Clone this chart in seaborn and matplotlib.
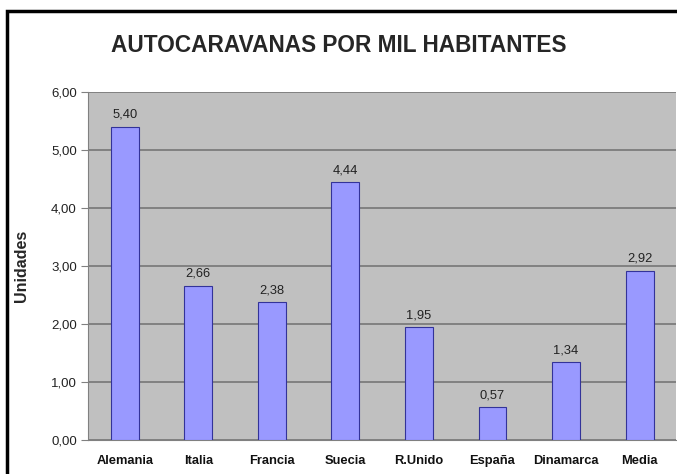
import matplotlib
matplotlib.use("Agg")
import matplotlib.pyplot as plt
import seaborn as sns
from matplotlib.patches import Rectangle

# data
paises = ["Alemania", "Italia", "Francia", "Suecia", "R.Unido", "España", "Dinamarca", "Media"]
valores = [5.40, 2.66, 2.38, 4.44, 1.95, 0.57, 1.34, 2.92]
yticks = [0, 1, 2, 3, 4, 5, 6]

sns.set_style("white")
plt.rcParams["font.family"] = ["Liberation Sans", "DejaVu Sans"]

fig = plt.figure(figsize=(6.77, 4.74), dpi=100)
ax = fig.add_axes([0.130, 0.072, 0.869, 0.734])
ax.set_facecolor("#c0c0c0")

sns.barplot(x=paises, y=valores, color="#9999ff", width=0.38,
            edgecolor="#333399", linewidth=0.8, saturation=1, ax=ax, zorder=3)

ax.set_ylim(0, 6)
ax.set_xlim(-0.5, len(paises) - 0.5)
ax.set_yticks(yticks)
ax.set_yticklabels([f"{v:.2f}".replace(".", ",") for v in yticks], fontsize=9.5, color="#222222")
ax.yaxis.grid(True, color="#707070", linewidth=1.1, zorder=1)
ax.set_axisbelow(True)

# category labels, ticks between categories
ax.set_xticks(range(len(paises)))
ax.set_xticklabels(paises, fontsize=9.3, fontweight="bold", color="#111111")
ax.set_xticks([i - 0.5 for i in range(len(paises) + 1)], minor=True)
ax.tick_params(axis="x", which="major", length=0, pad=11)
ax.tick_params(axis="x", which="minor", length=5, color="#808080", width=0.8)
ax.tick_params(axis="y", length=5, color="#808080", width=0.8, left=True, pad=3)

for s in ["top", "right"]:
    ax.spines[s].set_visible(False)
for s in ["left", "bottom"]:
    ax.spines[s].set_color("#808080")
    ax.spines[s].set_linewidth(0.8)

# value labels
for i, v in enumerate(valores):
    ax.text(i, v + 0.1, f"{v:.2f}".replace(".", ","), ha="center", va="bottom",
            fontsize=9.3, color="#222222", zorder=4)

ax.set_xlabel("")
ax.set_ylabel("Unidades", fontsize=11.5, fontweight="bold", labelpad=16)

fig.text(0.5, 0.905, "AUTOCARAVANAS POR MIL HABITANTES", ha="center", va="center",
         fontsize=16.3, fontweight="bold")

# black frame around the chart (cut off at right and bottom)
fig.patches.append(Rectangle((0.010, -0.05), 1.2, 1.027, transform=fig.transFigure,
                             fill=False, edgecolor="black", linewidth=2.5))

fig.savefig("out.png", dpi=100)
